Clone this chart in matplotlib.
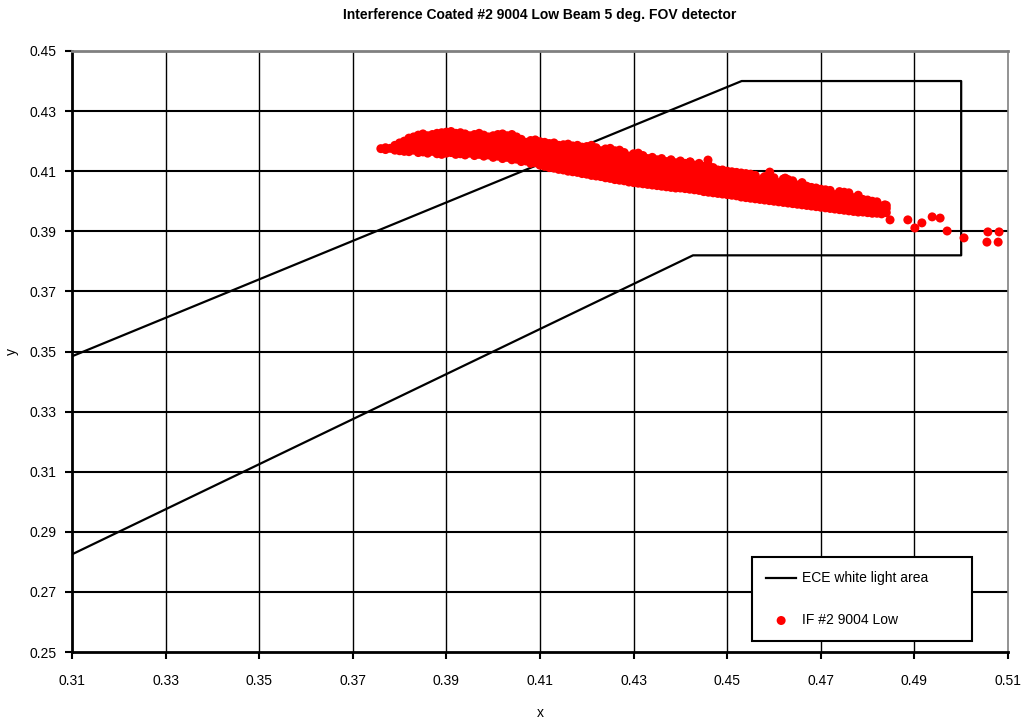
import matplotlib
matplotlib.use("Agg")
import matplotlib.pyplot as plt
import numpy as np

plt.rcParams['font.family'] = ['Liberation Sans', 'DejaVu Sans']

# ECE white light boundary (open polyline, left edge is the axis)
ece_x = [0.310, 0.4531, 0.500, 0.500, 0.4427, 0.310]
ece_y = [0.3484, 0.440, 0.440, 0.382, 0.382, 0.2825]

# IF #2 9004 Low measurements, grouped by x (even thousandths)
if_columns = {
    0.376: [0.4175],
    0.377: [0.4172, 0.4178],
    0.378: [0.4176],
    0.380: [0.4168, 0.4182, 0.4194],
    0.382: [0.4165, 0.4180, 0.4195, 0.4210],
    0.384: [0.4162, 0.4178, 0.4193, 0.4208, 0.4220],
    0.386: [0.4160, 0.4175, 0.4190, 0.4205, 0.4218],
    0.388: [0.4158, 0.4172, 0.4188, 0.4203, 0.4216, 0.4226],
    0.390: [0.4160, 0.4174, 0.4190, 0.4205, 0.4220, 0.4230],
    0.392: [0.4156, 0.4170, 0.4186, 0.4200, 0.4215, 0.4226],
    0.394: [0.4154, 0.4168, 0.4184, 0.4198, 0.4212, 0.4224],
    0.396: [0.4152, 0.4166, 0.4182, 0.4196, 0.4210, 0.4222],
    0.398: [0.4150, 0.4164, 0.4180, 0.4194, 0.4208, 0.4220],
    0.400: [0.4146, 0.4160, 0.4176, 0.4190, 0.4204, 0.4218],
    0.402: [0.4142, 0.4156, 0.4172, 0.4186, 0.4200, 0.4214, 0.4224],
    0.404: [0.4138, 0.4152, 0.4168, 0.4182, 0.4196, 0.4210, 0.4222],
    0.406: [0.4132, 0.4146, 0.4162, 0.4178, 0.4192, 0.4206],
    0.408: [0.4126, 0.4140, 0.4156, 0.4172, 0.4188, 0.4202],
    0.410: [0.4120, 0.4134, 0.4150, 0.4166, 0.4182, 0.4198],
    0.412: [0.4112, 0.4128, 0.4144, 0.4160, 0.4176, 0.4192],
    0.414: [0.4106, 0.4122, 0.4138, 0.4154, 0.4170, 0.4186],
    0.416: [0.4100, 0.4116, 0.4132, 0.4148, 0.4164, 0.4180, 0.4190],
    0.418: [0.4096, 0.4110, 0.4126, 0.4142, 0.4158, 0.4174, 0.4186],
    0.420: [0.4090, 0.4104, 0.4120, 0.4136, 0.4152, 0.4168, 0.4182],
    0.422: [0.4084, 0.4098, 0.4114, 0.4130, 0.4146, 0.4162, 0.4178],
    0.424: [0.4078, 0.4094, 0.4110, 0.4126, 0.4142, 0.4158, 0.4174],
    0.426: [0.4072, 0.4088, 0.4104, 0.4120, 0.4136, 0.4152, 0.4168],
    0.428: [0.4068, 0.4084, 0.4100, 0.4116, 0.4132, 0.4148, 0.4162],
    0.430: [0.4062, 0.4078, 0.4094, 0.4110, 0.4126, 0.4142, 0.4158],
    0.432: [0.4058, 0.4074, 0.4090, 0.4106, 0.4122, 0.4138, 0.4152],
    0.434: [0.4054, 0.4070, 0.4086, 0.4102, 0.4118, 0.4134, 0.4146],
    0.436: [0.4050, 0.4066, 0.4082, 0.4098, 0.4114, 0.4130, 0.4142],
    0.438: [0.4046, 0.4062, 0.4078, 0.4094, 0.4110, 0.4126, 0.4138],
    0.440: [0.4044, 0.4058, 0.4074, 0.4090, 0.4106, 0.4122, 0.4134],
    0.442: [0.4040, 0.4054, 0.4070, 0.4086, 0.4102, 0.4118, 0.4130],
    0.444: [0.4036, 0.4050, 0.4066, 0.4082, 0.4098, 0.4114, 0.4126],
    0.446: [0.4030, 0.4046, 0.4062, 0.4078, 0.4094, 0.4108, 0.4120],
    0.448: [0.4026, 0.4042, 0.4058, 0.4074, 0.4090, 0.4104],
    0.450: [0.4022, 0.4038, 0.4054, 0.4070, 0.4086, 0.4100],
    0.452: [0.4018, 0.4034, 0.4050, 0.4066, 0.4082, 0.4096],
    0.454: [0.4012, 0.4028, 0.4044, 0.4060, 0.4076, 0.4092],
    0.456: [0.4008, 0.4024, 0.4040, 0.4056, 0.4072, 0.4086],
    0.458: [0.4004, 0.4020, 0.4036, 0.4052, 0.4068, 0.4082],
    0.460: [0.4000, 0.4016, 0.4032, 0.4048, 0.4064, 0.4078],
    0.462: [0.3996, 0.4012, 0.4028, 0.4044, 0.4060, 0.4074],
    0.464: [0.3992, 0.4008, 0.4024, 0.4040, 0.4056, 0.4068],
    0.466: [0.3988, 0.4004, 0.4020, 0.4036, 0.4052, 0.4062],
    0.468: [0.3984, 0.4000, 0.4016, 0.4032, 0.4046],
    0.470: [0.3980, 0.3996, 0.4012, 0.4028, 0.4040],
    0.472: [0.3976, 0.3992, 0.4008, 0.4024, 0.4036],
    0.474: [0.3972, 0.3988, 0.4004, 0.4020, 0.4032],
    0.476: [0.3968, 0.3984, 0.4000, 0.4016, 0.4028],
    0.478: [0.3964, 0.3980, 0.3996, 0.4010, 0.4020],
    0.480: [0.3962, 0.3976, 0.3990, 0.4004],
    0.482: [0.3960, 0.3972, 0.3986, 0.3998],
    0.484: [0.3962, 0.3976, 0.3986],
}

# odd thousandths
if_columns_odd = {
    0.379: [0.4170, 0.4186],
    0.381: [0.4166, 0.4184, 0.4200],
    0.383: [0.4170, 0.4188, 0.4204, 0.4214],
    0.385: [0.4164, 0.4182, 0.4198, 0.4212, 0.4224],
    0.387: [0.4166, 0.4180, 0.4196, 0.4210, 0.4222],
    0.389: [0.4156, 0.4178, 0.4196, 0.4212, 0.4228],
    0.391: [0.4162, 0.4180, 0.4196, 0.4210, 0.4232],
    0.393: [0.4158, 0.4176, 0.4194, 0.4208, 0.4228],
    0.395: [0.4160, 0.4174, 0.4190, 0.4204, 0.4218],
    0.397: [0.4156, 0.4172, 0.4188, 0.4202, 0.4216, 0.4226],
    0.399: [0.4154, 0.4170, 0.4186, 0.4200, 0.4214],
    0.401: [0.4150, 0.4166, 0.4182, 0.4196, 0.4210, 0.4222],
    0.403: [0.4146, 0.4162, 0.4178, 0.4192, 0.4206, 0.4218],
    0.405: [0.4140, 0.4156, 0.4172, 0.4188, 0.4202, 0.4214],
    0.407: [0.4134, 0.4150, 0.4166, 0.4182, 0.4196],
    0.409: [0.4128, 0.4144, 0.4160, 0.4176, 0.4192, 0.4204],
    0.411: [0.4116, 0.4136, 0.4154, 0.4170, 0.4186, 0.4196],
    0.413: [0.4110, 0.4130, 0.4148, 0.4164, 0.4180, 0.4194],
    0.415: [0.4104, 0.4126, 0.4142, 0.4158, 0.4176, 0.4188],
    0.417: [0.4098, 0.4118, 0.4136, 0.4152, 0.4168, 0.4184],
    0.419: [0.4092, 0.4112, 0.4130, 0.4146, 0.4162, 0.4180],
    0.421: [0.4086, 0.4108, 0.4124, 0.4140, 0.4156, 0.4172, 0.4186],
    0.423: [0.4082, 0.4100, 0.4118, 0.4136, 0.4150, 0.4168],
    0.425: [0.4076, 0.4096, 0.4114, 0.4130, 0.4146, 0.4164, 0.4176],
    0.427: [0.4070, 0.4090, 0.4108, 0.4124, 0.4140, 0.4156, 0.4170],
    0.429: [0.4064, 0.4082, 0.4098, 0.4118, 0.4136, 0.4150],
    0.431: [0.4060, 0.4076, 0.4092, 0.4114, 0.4130, 0.4146, 0.4160],
    0.433: [0.4056, 0.4072, 0.4088, 0.4108, 0.4126, 0.4142],
    0.435: [0.4052, 0.4068, 0.4084, 0.4100, 0.4120, 0.4138],
    0.437: [0.4048, 0.4064, 0.4080, 0.4096, 0.4116, 0.4132],
    0.439: [0.4044, 0.4060, 0.4076, 0.4092, 0.4112, 0.4128],
    0.441: [0.4042, 0.4056, 0.4072, 0.4088, 0.4108, 0.4126],
    0.443: [0.4038, 0.4052, 0.4068, 0.4084, 0.4104, 0.4120],
    0.445: [0.4032, 0.4048, 0.4064, 0.4080, 0.4098, 0.4116],
    0.447: [0.4028, 0.4044, 0.4060, 0.4076, 0.4092, 0.4112],
    0.449: [0.4024, 0.4040, 0.4056, 0.4072, 0.4088, 0.4104],
    0.451: [0.4020, 0.4036, 0.4052, 0.4068, 0.4084, 0.4098],
    0.453: [0.4014, 0.4030, 0.4046, 0.4062, 0.4078, 0.4094],
    0.455: [0.4010, 0.4026, 0.4042, 0.4058, 0.4074, 0.4090],
    0.457: [0.4006, 0.4022, 0.4038, 0.4054, 0.4070],
    0.459: [0.4002, 0.4018, 0.4034, 0.4050, 0.4066, 0.4080],
    0.461: [0.3998, 0.4014, 0.4030, 0.4046, 0.4062],
    0.463: [0.3994, 0.4010, 0.4026, 0.4042, 0.4058, 0.4072],
    0.465: [0.3990, 0.4006, 0.4022, 0.4038, 0.4054],
    0.467: [0.3986, 0.4002, 0.4018, 0.4034, 0.4050],
    0.469: [0.3982, 0.3998, 0.4014, 0.4030, 0.4044],
    0.471: [0.3978, 0.3994, 0.4010, 0.4026, 0.4038],
    0.473: [0.3974, 0.3990, 0.4006, 0.4022],
    0.475: [0.3970, 0.3986, 0.4002, 0.4018, 0.4030],
    0.477: [0.3966, 0.3982, 0.3998, 0.4012],
    0.479: [0.3964, 0.3978, 0.3994, 0.4006],
    0.481: [0.3960, 0.3974, 0.3988, 0.4000],
    0.483: [0.3958, 0.3970, 0.3984],
}

# scattered readings away from the main band
stray_x = [0.4421, 0.4459, 0.4591, 0.4577, 0.4624, 0.4741, 0.4794, 0.4837,
           0.4848, 0.4886, 0.4901, 0.4916, 0.4938, 0.4955, 0.4970, 0.5006,
           0.5057, 0.5055, 0.5081, 0.5079]
stray_y = [0.4131, 0.4137, 0.4097, 0.4077, 0.4077, 0.4027, 0.3994, 0.3988,
           0.3938, 0.3938, 0.3911, 0.3928, 0.3948, 0.3944, 0.3901, 0.3878,
           0.3898, 0.3864, 0.3898, 0.3864]

if_x, if_y = list(stray_x), list(stray_y)
for cols in (if_columns, if_columns_odd):
    for x, ys in cols.items():
        if_x.extend([x] * len(ys))
        if_y.extend(ys)

fig = plt.figure(figsize=(10.25, 7.2), dpi=100)
ax = fig.add_axes([0.0702, 0.0944, 0.9132, 0.8348])

ax.plot(ece_x, ece_y, color='black', lw=1.6, label='ECE white light area', zorder=3)
ax.scatter(if_x, if_y, s=42, color='red', edgecolors='none',
           label='IF #2 9004 Low', zorder=4)

ax.set_xlim(0.31, 0.51)
ax.set_ylim(0.25, 0.45)
ticks_x = np.arange(0.31, 0.5101, 0.02)
ticks_y = np.arange(0.25, 0.4501, 0.02)
ax.set_xticks(ticks_x)
ax.set_yticks(ticks_y)
ax.set_xticklabels(['%.2f' % t for t in ticks_x])
ax.set_yticklabels(['%.2f' % t for t in ticks_y])

# gridlines: horizontal heavier than vertical
for t in ticks_x[1:-1]:
    ax.axvline(t, color='black', lw=1.0, zorder=1)
for t in ticks_y[1:-1]:
    ax.axhline(t, color='black', lw=1.5, zorder=1)

for side in ('left', 'bottom'):
    ax.spines[side].set_linewidth(2.0)
    ax.spines[side].set_color('black')
ax.spines['top'].set_linewidth(2.0)
ax.spines['top'].set_color('#808080')
ax.spines['right'].set_linewidth(1.2)
ax.spines['right'].set_color('#808080')

ax.tick_params(axis='both', direction='out', length=5, width=1.5,
               labelsize=10, color='black')
ax.tick_params(axis='x', pad=11)
ax.tick_params(axis='y', pad=6)

ax.set_xlabel('x', fontsize=10, labelpad=12.5)
ax.set_ylabel('y', fontsize=10, labelpad=8)
ax.set_title('Interference Coated #2 9004 Low Beam 5 deg. FOV detector',
             fontsize=10, fontweight='bold', pad=23)

leg = ax.legend(loc='lower left', bbox_to_anchor=(0.7265, 0.0183, 0.235, 0.1464),
                mode='expand', fancybox=False, framealpha=1, edgecolor='black',
                fontsize=10, labelspacing=2.0, borderpad=1.0, handlelength=2.2,
                handletextpad=0.4, borderaxespad=0)
leg.get_frame().set_linewidth(1.5)
leg.set_zorder(5)

fig.savefig('out.png', dpi=100)
